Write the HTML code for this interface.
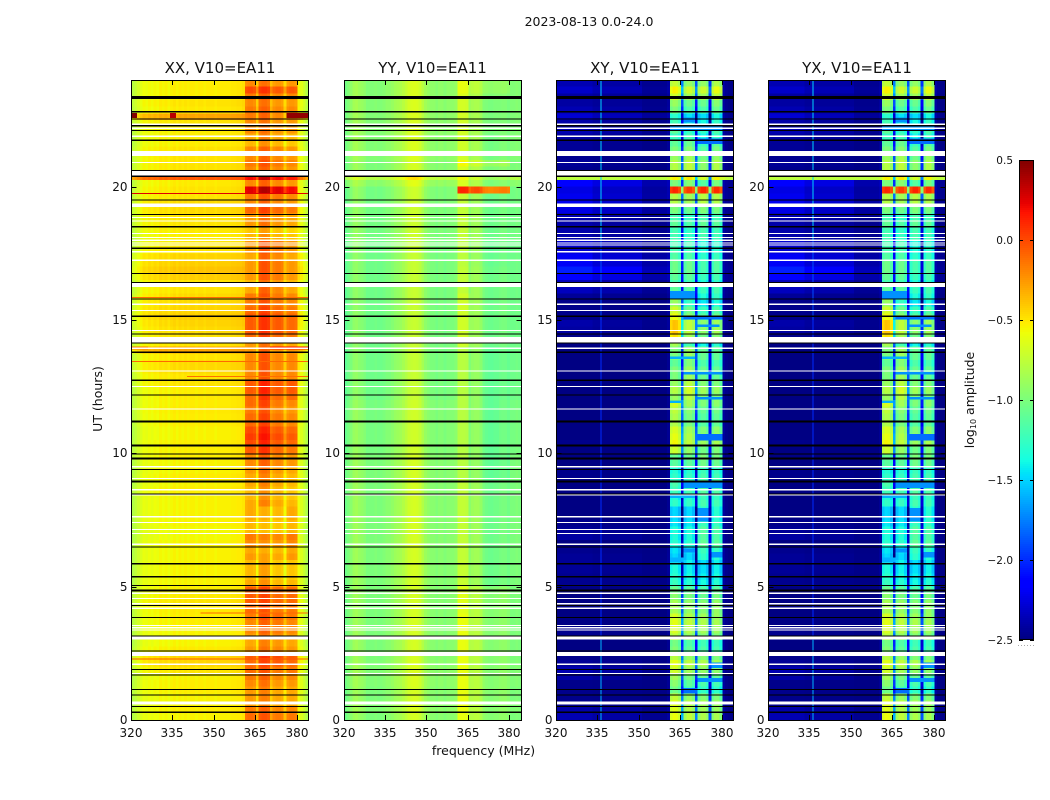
<!DOCTYPE html>
<html lang="en">
<head>
<meta charset="utf-8">
<title>2023-08-13 0.0-24.0</title>
<style>
html,body{margin:0;padding:0;background:#fff;width:1050px;height:800px;overflow:hidden}
svg{display:block}
text{font-family:"DejaVu Sans","Liberation Sans",sans-serif;fill:#111}
</style>
</head>
<body>
<svg id="chart" xmlns="http://www.w3.org/2000/svg" width="1050" height="800" viewBox="0 0 1050 800">
<text x="589" y="26" font-size="12.5" text-anchor="middle">2023-08-13 0.0-24.0</text>
<text transform="translate(102,399) rotate(-90)" font-size="12.5" text-anchor="middle">UT (hours)</text>
<text x="483.5" y="755" font-size="12.5" text-anchor="middle">frequency (MHz)</text>
<text transform="translate(974,400) rotate(-90)" font-size="12.5" text-anchor="middle">log<tspan font-size="8" dy="2">10</tspan><tspan dy="-2"> amplitude</tspan></text>
</svg>
<script>
// Axis tick labels
const freqTicks = [320, 335, 350, 365, 380];
const hourTicks = [0, 5, 10, 15, 20];
const colorTicks = [-2.5, -2.0, -1.5, -1.0, -0.5, 0.0, 0.5];

// Baseline log10 amplitude per 1 MHz channel (320..383 MHz)
const xxSpectrum = [-.8,-.75,-.7,-.65,-.6,-.62,-.59,-.61,-.58,-.6,-.56,-.58,-.56,-.59,-.56,-.54,-.57,-.54,-.56,-.54,-.56,-.54,-.54,-.56,-.54,-.54,-.56,-.54,-.54,-.54,-.56,-.54,-.54,-.54,-.54,-.54,-.53,-.53,-.52,-.52,-.5,-.33,-.3,-.3,-.33,-.52,-.25,-.22,-.22,-.25,-.48,-.33,-.3,-.3,-.33,-.52,-.33,-.3,-.3,-.33,-.58,-.65,-.72,-.82];
const yySpectrum = [-1.05,-1.0,-.95,-.88,-.86,-.9,-.92,-.95,-1.0,-1.0,-1.0,-.98,-1.0,-1.0,-.98,-.95,-.95,-.92,-.88,-.86,-.84,-.8,-.75,-.7,-.68,-.67,-.68,-.72,-.8,-.88,-.92,-.95,-.95,-.98,-.95,-.95,-.98,-.95,-.95,-.95,-.92,-.7,-.68,-.68,-.7,-.88,-.82,-.8,-.8,-.85,-.95,-.98,-1.0,-1.0,-.98,-.98,-.96,-.95,-.95,-.98,-1.0,-1.0,-.98,-1.0];
const xySpectrum = [-2.49,-2.49,-2.49,-2.49,-2.49,-2.49,-2.49,-2.49,-2.49,-2.49,-2.49,-2.49,-2.49,-2.49,-2.49,-2.49,-2.49,-2.49,-2.49,-2.49,-2.49,-2.49,-2.49,-2.49,-2.49,-2.49,-2.49,-2.49,-2.49,-2.49,-2.49,-2.49,-2.49,-2.49,-2.49,-2.49,-2.49,-2.49,-2.49,-2.49,-2.45,-1.15,-1.08,-1.1,-1.2,-2.1,-1.25,-1.15,-1.15,-1.25,-2.15,-1.18,-1.08,-1.08,-1.18,-2.15,-1.22,-1.1,-1.1,-1.25,-2.42,-2.47,-2.49,-2.49];
const yxSpectrum = [-2.49,-2.49,-2.49,-2.49,-2.49,-2.49,-2.49,-2.49,-2.49,-2.49,-2.49,-2.49,-2.49,-2.49,-2.49,-2.49,-2.49,-2.49,-2.49,-2.49,-2.49,-2.49,-2.49,-2.49,-2.49,-2.49,-2.49,-2.49,-2.49,-2.49,-2.49,-2.49,-2.49,-2.49,-2.49,-2.49,-2.49,-2.49,-2.49,-2.49,-2.45,-1.15,-1.08,-1.1,-1.2,-2.1,-1.25,-1.15,-1.15,-1.25,-2.15,-1.18,-1.08,-1.08,-1.18,-2.15,-1.22,-1.1,-1.1,-1.25,-2.42,-2.47,-2.49,-2.49];
// How strongly faint whole-band cross-hand emission appears in each channel
const crossBandShape = [1,1,1,1,1,1,1,1,1,1,1,1,1,.7,.7,.7,.7,.7,.7,.7,.7,.7,.7,.7,.7,.7,.7,.7,.7,.7,.7,.3,.3,.3,.3,.3,.3,.3,.3,.3,.3,.1,.1,.1,.1,.1,.1,.1,.1,.1,.1,.1,.1,.1,.1,.1,.1,.1,.1,.1,.1,.1,.1,.1];

// Whole-band amplitude change per quarter hour (0..24 UT)
const xxBandRows = [0,.02,0,0,.02,.02,0,.05,.1,.1,.03,0,0,0,.02,.02,.03,.05,.03,.02,0,0,0,0,
  0,0,0,-.02,-.02,0,0,0,0,0,.02,0,.02,0,0,.02,.02,.02,0,0,.02,.02,.03,.02,
  .03,.02,.05,.05,.08,.08,.05,.25,.05,.05,.08,.1,.12,.1,.08,.08,.05,.05,.12,.15,.12,.1,.05,.03,
  .02,.03,.05,.05,.08,.08,.05,.05,.03,.5,.05,.05,.05,.05,.02,.02,.02,.05,.25,.03,.05,.02,.02,.02];
const yyBandRows = [0,.02,.02,0,0,.02,.02,.02,.02,0,0,0,0,0,0,0,0,0,0,0,0,0,0,0,
  0,0,0,0,0,0,0,0,0,0,0,0,0,0,0,0,-.02,-.02,-.02,-.02,-.02,-.02,-.02,-.02,
  -.05,-.05,-.05,-.05,-.05,-.05,-.05,-.05,-.05,-.05,-.05,-.05,-.05,-.05,-.05,-.05,-.05,-.05,-.05,-.05,-.05,-.05,-.05,-.05,
  -.03,-.03,-.03,-.03,-.03,-.03,-.03,-.03,.05,.2,0,0,.02,.02,.02,.02,.02,.02,.02,.02,.02,.02,.02,.02];
const crossBandRows = [.12,.1,.02,.02,.02,.02,.1,.12,.05,.02,0,0,.03,.03,0,0,0,0,0,0,.03,.03,.05,.05,
  .05,.03,0,.08,.05,.02,0,0,0,0,0,0,.02,.02,0,0,0,.02,0,0,0,0,0,0,
  0,0,0,0,0,0,0,0,0,.02,.08,.1,.02,.02,.02,.05,.15,.15,.35,.45,.3,.3,.2,.2,
  .1,.1,.1,.12,.25,.28,.28,.25,.35,1.72,.03,.05,.03,.05,.05,.08,.12,.1,.2,.12,.08,.08,.18,.12];

// Amplitude change inside the 361..380 MHz RFI windows per quarter hour
const xxRfiRows = [.15,.1,0,0,0,.05,.1,.15,.2,.25,.05,0,.05,.1,.1,.15,.15,.2,.2,.2,-.05,-.1,-.1,-.1,
  0,-.05,.05,.1,-.1,-.1,-.05,-.05,0,-.05,-.05,0,0,.05,.1,.1,.2,.25,.3,.25,.15,.15,.1,.15,
  .2,.25,.25,.1,.1,.1,.1,.05,0,.15,.2,.2,.2,.15,.1,.1,.05,0,.1,.1,.1,.05,.1,.1,
  -.05,-.1,.05,.05,.2,.1,.15,.55,.1,.5,.1,.15,.1,.1,-.05,0,.05,.05,.1,.1,.05,.1,.25,.05];
const yyRfiRows = [.03,.03,.03,.03,.03,.03,.03,.03,.03,.03,.03,.03,.03,.03,.03,.03,.03,.03,.03,.03,-.06,-.06,-.06,-.06,
  -.06,-.06,-.06,-.06,-.06,-.06,-.06,-.06,-.06,-.06,-.06,-.06,-.1,-.1,-.1,-.1,-.1,-.1,-.1,-.1,-.1,-.1,-.1,-.1,
  -.1,-.1,-.1,-.1,-.1,-.1,-.1,-.1,-.06,-.06,-.06,-.06,-.06,-.06,-.06,-.06,-.06,-.06,-.06,-.06,-.08,-.08,-.08,-.08,
  -.06,-.06,-.06,-.06,-.06,-.06,-.06,.8,0,.1,0,.1,-.03,-.03,-.03,-.03,-.03,-.03,-.03,-.03,-.03,0,.05,.05];
const crossRfiRows = [.35,.3,.3,.2,-.1,0,.1,.25,.35,.2,0,-.05,.2,.3,.35,.3,.2,.2,.1,0,-.2,-.25,-.3,-.3,
  -.25,-.2,-.05,-.1,-.1,-.2,-.25,-.25,-.1,-.15,-.05,0,-.1,-.15,.05,.1,.2,.35,.3,.25,.1,.1,.15,.25,
  .2,.3,.2,.1,.1,0,.1,.1,-.05,.3,.4,.4,.2,.1,-.1,0,0,-.1,0,.05,.05,-.05,-.1,-.1,
  -.1,-.1,0,-.1,.1,.3,.3,1.2,.1,.55,.3,.3,.2,.1,0,-.15,-.1,-.2,-.3,0,.1,.3,.45,.25];

// Per-window (W1..W4) adjustment for each two-hour block
const xxWindowBlocks = [[.05,.05,0,0],[0,.05,.05,0],[.05,.05,0,0],[.05,-.05,0,.05],[0,.05,0,-.05],[.05,.1,0,-.05],[0,.1,0,0],[.05,.1,.05,0],[-.05,.1,.05,-.05],[0,.05,0,-.05],[0,.05,0,-.05],[.05,.05,0,0]];
const yyWindowBlocks = [[.05,0,0,0],[.05,0,0,0],[.02,0,0,0],[0,0,0,0],[0,0,0,0],[0,0,0,.02],[0,0,0,0],[.05,0,0,0],[0,0,0,0],[0,0,0,0],[.02,0,0,0],[.03,0,.02,0]];
const crossWindowBlocks = [[.15,.05,-.08,-.08],[.12,.05,-.08,-.08],[.05,.05,-.08,0],[-.15,-.08,.05,.05],[-.08,0,0,0],[.18,.05,-.15,-.08],[0,.18,-.08,-.08],[.3,0,-.25,-.15],[0,.05,-.15,-.08],[0,0,0,0],[0,.1,-.15,0],[.1,0,-.08,.05]];

// First channel of each RFI window, and the channel range they span
const windowStarts = [41, 46, 51, 56];
const rfiFirstChannel = 41;
const rfiLastChannel = 59;

// Narrow interference line near 335.9 MHz, level per three-hour block
const spurFrequency = 335.9;
const spurLevels = [-1.6, -2.0, -2.0, -2.0, -2.0, -1.9, -1.5, -1.5];

// Faint streaks inside XY/YX windows as [centre hour, duration, start MHz, end MHz, log amplitude]
const crossStreaks = [[15.94,.3,361,370,-1.7],[15.07,.12,366,380,-1.8],[14.78,.1,371,379,-1.7],[13.58,.1,361,370,-1.6],[13,.1,366,380,-1.7],[11.93,.1,361,365,-1.6],[12.07,.1,371,380,-1.7],[10.6,.25,371,380,-1.8],[8.8,.2,366,380,-1.7],[8.4,.15,361,370,-1.6],[7.7,.5,371,375,-1.7],[6.35,.15,366,370,-1.7],[6,.2,361,366,-1.6],[6.2,.2,376,380,-1.7],[2.05,.2,376,380,-1.7],[1.5,.15,371,380,-1.7],[1.1,.2,366,371,-1.8],[22.5,.2,366,370,-1.7],[22.2,.15,361,380,-1.7],[21.7,.2,371,380,-1.8]];

// Flagged (blank) records as [centre hour, duration in hours]
const whiteRows = [[22.34,.04],[22.19,.04],[21.89,.04],[21.25,.19],[20.91,.04],[20.5,.19],[19.3,.13],[18.85,.04],[18.72,.04],[18.25,.04],[18.1,.04],[17.99,.04],[17.89,.04],[17.81,.04],[17.56,.04],[17.24,.04],[16.32,.15],[15.59,.04],[15.36,.04],[14.61,.04],[14.25,.22],[13.94,.04],[13.08,.04],[12.51,.04],[11.67,.04],[9.5,.05],[9.06,.04],[8.63,.05],[8.44,.03],[7.62,.07],[7.41,.04],[7.15,.04],[7,.04],[6.59,.04],[4.75,.05],[4.55,.04],[4.36,.04],[4.19,.04],[3.54,.04],[3.46,.04],[3.38,.04],[3.08,.11],[2.48,.15],[2.09,.04],[1.75,.04],[.63,.11]];
// Zero-amplitude records as [centre hour, duration in hours]
const blackRows = [[23.35,.11],[22.81,.06],[22.53,.04],[22.29,.06],[22.11,.04],[21.74,.04],[20.61,.04],[20.39,.04],[19.5,.04],[18.96,.04],[18.5,.05],[17.69,.06],[16.75,.04],[16.41,.04],[15.79,.04],[15.14,.04],[14.48,.04],[14.13,.04],[13.79,.04],[12.74,.04],[12.18,.04],[11.19,.07],[10.29,.07],[9.98,.04],[9.8,.07],[9.4,.04],[8.94,.07],[8.48,.04],[6.48,.04],[5.86,.07],[5.37,.07],[5.04,.04],[4.85,.07],[4.3,.04],[3.85,.04],[3.15,.04],[2.58,.04],[1.9,.04],[1.69,.04],[1.15,.04],[.93,.04],[.51,.04],[.29,.04]];
// Bright XX segments as [centre hour, duration, start MHz, end MHz, log amplitude]
const xxBrightRows = [[19.74,.04,320,384,.25],[4.02,.03,345,384,-.1],[2.3,.03,320,384,-.05],[15.85,.03,320,384,-.1],[13.45,.03,320,384,-.1],[12.88,.03,340,384,-.12],[22.67,.19,320,322,.5],[22.67,.19,334,336,.35],[22.67,.19,376,384,.45],[13.95,.1,320,326,-.15],[13.95,.1,370,384,.15]];

const panelNames = ["XX, V10=EA11", "YY, V10=EA11", "XY, V10=EA11", "YX, V10=EA11"];
const panelKeys = ["xx", "yy", "xy", "yx"];

const svg = document.getElementById("chart");
const NS = "http://www.w3.org/2000/svg";
const plotTop = 80, plotBottom = 720, plotWidth = 177;
const plotLefts = [131.5, 344, 556.5, 768.5];
const freqMin = 320, freqMax = 384, hourMax = 24;
const rowHours = .25;
const barX = 1019, barW = 15, barTop = 160, barBottom = 640;
const colorMin = -2.5, colorMax = .5;

function xScale(left, f) { return left + (f - freqMin) / (freqMax - freqMin) * plotWidth; }
function yScale(h) { return plotBottom - h / hourMax * (plotBottom - plotTop); }
function colorY(v) { return barBottom - (v - colorMin) / (colorMax - colorMin) * (barBottom - barTop); }
function clamp01(v) { return Math.max(0, Math.min(1, v)); }
function jet(v) {
  const t = clamp01((v - colorMin) / (colorMax - colorMin));
  const r = t < .35 ? 0 : t < .66 ? (t - .35) / .31 : t < .89 ? 1 : 1 - (t - .89) / .11 * .5;
  const g = t < .125 ? 0 : t < .375 ? (t - .125) / .25 : t < .64 ? 1 : t < .91 ? 1 - (t - .64) / .27 : 0;
  const b = t < .11 ? .5 + t / .11 * .5 : t < .34 ? 1 : t < .65 ? 1 - (t - .34) / .31 : 0;
  return "rgb(" + Math.round(r * 255) + "," + Math.round(g * 255) + "," + Math.round(b * 255) + ")";
}
function rect(parent, x, y, w, h, fill, name) {
  const el = document.createElementNS(NS, "rect");
  el.setAttribute("x", x);
  el.setAttribute("y", y);
  el.setAttribute("width", w);
  el.setAttribute("height", h);
  el.setAttribute("fill", fill);
  el.setAttribute("shape-rendering", "crispEdges");
  
  
  parent.appendChild(el);
  return el;
}
function line(parent, x1, y1, x2, y2, name) {
  const el = document.createElementNS(NS, "line");
  el.setAttribute("x1", x1);
  el.setAttribute("y1", y1);
  el.setAttribute("x2", x2);
  el.setAttribute("y2", y2);
  el.setAttribute("stroke", "#000");
  el.setAttribute("stroke-width", "1");
  
  
  parent.appendChild(el);
}
function label(parent, x, y, str, anchor, size, name) {
  const el = document.createElementNS(NS, "text");
  el.setAttribute("x", x);
  el.setAttribute("y", y);
  el.setAttribute("text-anchor", anchor);
  el.setAttribute("font-size", size);
  el.textContent = str;
  
  
  parent.appendChild(el);
}
function group(name) {
  const el = document.createElementNS(NS, "g");
  
  
  svg.appendChild(el);
  return el;
}
function windowIndex(c) {
  let w = 0;
  windowStarts.forEach(function (s, i) { if (c >= s) w = i; });
  return w;
}
function cellValue(key, spec, band, rfi, blocks, c, r) {
  if (c >= rfiFirstChannel && c <= rfiLastChannel) {
    return spec[c] + rfi[r] + blocks[Math.floor(r * rowHours / 2)][windowIndex(c)];
  }
  const isCross = key === "xy" || key === "yx";
  const shape = isCross && band[r] < 1 ? crossBandShape[c] : 1;
  return spec[c] + band[r] * shape;
}
function drawPanel(p) {
  const key = panelKeys[p], left = plotLefts[p];
  const spec = key === "xx" ? xxSpectrum : key === "yy" ? yySpectrum : key === "xy" ? xySpectrum : yxSpectrum;
  const band = key === "xx" ? xxBandRows : key === "yy" ? yyBandRows : crossBandRows;
  const rfi = key === "xx" ? xxRfiRows : key === "yy" ? yyRfiRows : crossRfiRows;
  const blocks = key === "xx" ? xxWindowBlocks : key === "yy" ? yyWindowBlocks : crossWindowBlocks;
  const g = group(key + "-panel");
  const nRows = band.length;
  const pxPerHour = (plotBottom - plotTop) / hourMax;
  for (let r = 0; r < nRows; r++) {
    const yTop = yScale((r + 1) * rowHours), yBot = yScale(r * rowHours);
    for (let c = 0; c < spec.length; c++) {
      const x0 = xScale(left, freqMin + c), x1 = xScale(left, freqMin + c + 1);
      rect(g, x0, yTop, x1 - x0, yBot - yTop, jet(cellValue(key, spec, band, rfi, blocks, c, r)), key + "-heatmap-cell");
    }
  }
  if (key === "xy" || key === "yx") {
    crossStreaks.forEach(function (b) {
      rect(g, xScale(left, b[2]), yScale(b[0] + b[1] / 2), xScale(left, b[3]) - xScale(left, b[2]), b[1] * pxPerHour, jet(b[4]), key + "-window-streak");
    });
    spurLevels.forEach(function (lv, i) {
      const blockHours = hourMax / spurLevels.length;
      rect(g, xScale(left, spurFrequency), yScale((i + 1) * blockHours), 1, yScale(i * blockHours) - yScale((i + 1) * blockHours), jet(lv), key + "-spur-line");
    });
  }
  if (key === "xx") {
    xxBrightRows.forEach(function (b) {
      rect(g, xScale(left, b[2]), yScale(b[0] + b[1] / 2), xScale(left, b[3]) - xScale(left, b[2]), Math.max(1, b[1] * pxPerHour), jet(b[4]), "xx-bright-record");
    });
  }
  whiteRows.forEach(function (b) {
    rect(g, left, yScale(b[0] + b[1] / 2), plotWidth, Math.max(1, b[1] * pxPerHour), "#fff", key + "-blank-record");
  });
  blackRows.forEach(function (b) {
    rect(g, left, yScale(b[0] + b[1] / 2), plotWidth, Math.max(1, b[1] * pxPerHour), "#000", key + "-zero-record");
  });
  const frameX = Math.floor(left) + .5;
  const frame = document.createElementNS(NS, "rect");
  frame.setAttribute("x", frameX);
  frame.setAttribute("y", plotTop + .5);
  frame.setAttribute("width", plotWidth);
  frame.setAttribute("height", plotBottom - plotTop);
  frame.setAttribute("fill", "none");
  frame.setAttribute("stroke", "#000");
  
  
  g.appendChild(frame);
  freqTicks.forEach(function (f) {
    const x = Math.floor(xScale(left, f)) + .5;
    line(g, x, plotBottom, x, plotBottom - 5, key + "-x-tick");
    line(g, x, plotTop, x, plotTop + 5, key + "-x-tick-top");
    label(g, x - .5, 737, String(f), "middle", 12, key + "-x-tick-label");
  });
  hourTicks.forEach(function (h) {
    const y = Math.round(yScale(h)) + .5;
    line(g, frameX, y, frameX + 5, y, key + "-y-tick");
    line(g, frameX + plotWidth - 5, y, frameX + plotWidth, y, key + "-y-tick-right");
    label(g, left - 4, y + 3.5, String(h), "end", 12, key + "-y-tick-label");
  });
  label(g, left + plotWidth / 2, 73, panelNames[p], "middle", 15, key + "-title");
}
function drawColorbar() {
  const g = group("colorbar");
  const steps = 240;
  for (let i = 0; i < steps; i++) {
    const v0 = colorMin + (colorMax - colorMin) * i / steps;
    const v1 = colorMin + (colorMax - colorMin) * (i + 1) / steps;
    rect(g, barX, colorY(v1), barW, colorY(v0) - colorY(v1), jet((v0 + v1) / 2), "colorbar-step");
  }
  const frame = document.createElementNS(NS, "rect");
  frame.setAttribute("x", barX + .5);
  frame.setAttribute("y", barTop + .5);
  frame.setAttribute("width", barW - 1);
  frame.setAttribute("height", barBottom - barTop - 1);
  frame.setAttribute("fill", "none");
  frame.setAttribute("stroke", "#000");
  
  
  g.appendChild(frame);
  colorTicks.forEach(function (v) {
    const y = Math.round(colorY(v)) + .5;
    line(g, barX, y, barX + 4, y, "colorbar-tick");
    line(g, barX + barW - 4, y, barX + barW, y, "colorbar-tick-right");
    label(g, barX - 6, y + 3.5, v.toFixed(1).replace("-", "\u2212"), "end", 10.5, "colorbar-tick-label");
  });
  for (let x = barX - 1; x < barX + barW; x += 3) {
    rect(g, x, 645, 1, 1, "#aaa", "colorbar-minor-dot");
  }
}
panelKeys.forEach(function (k, i) { drawPanel(i); });
drawColorbar();
</script>
</body>
</html>
